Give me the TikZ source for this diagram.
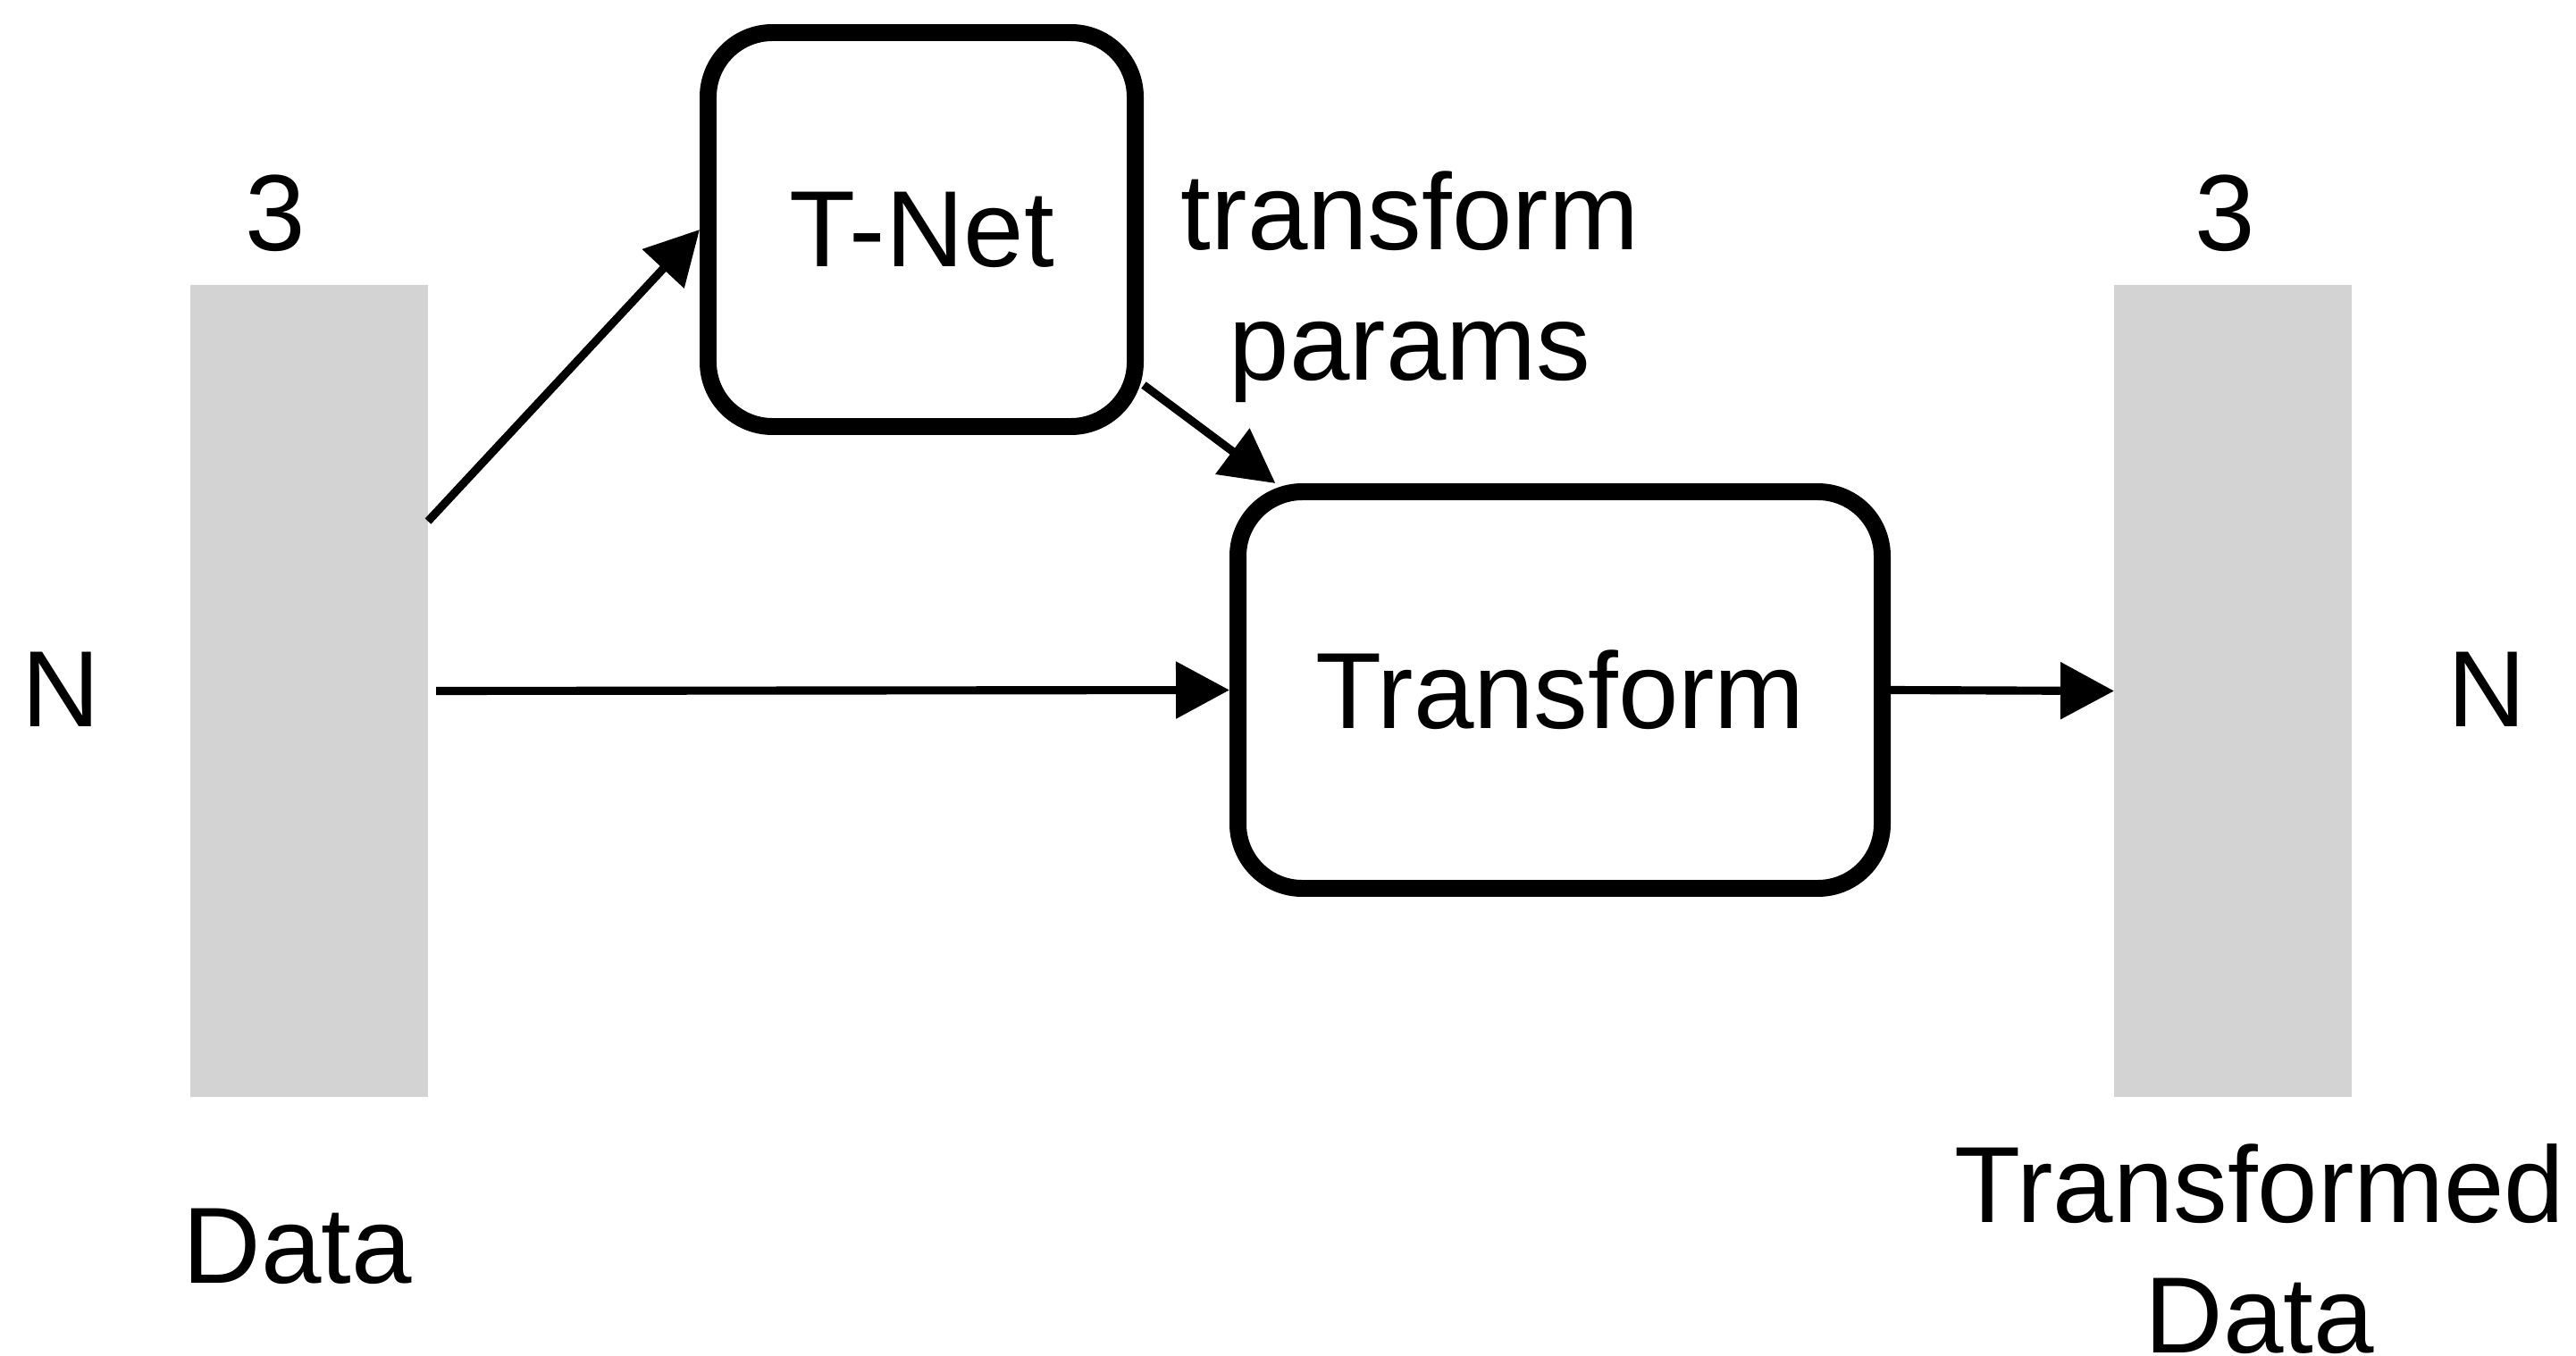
\documentclass[tikz,border=0pt]{standalone}
\usepackage{fontspec}
\setmainfont{Liberation Sans}
\usetikzlibrary{arrows.meta}
\definecolor{blockgray}{RGB}{211,211,211}
\tikzset{
  datablock/.style={fill=blockgray,minimum width=2.66cm,minimum height=9.08cm,inner sep=0pt,outer sep=0pt},
  procbox/.style={draw,line width=5.4pt,rounded corners=0.72cm,inner sep=0pt},
  conn/.style={line width=2.6pt,-{Triangle[length=0.6cm,width=0.62cm]}}
}
\begin{document}
\begin{tikzpicture}[font=\fontsize{34.5pt}{41.5pt}\selectfont]
  \useasboundingbox (0,0) rectangle (28.83,15.17);
  \node (data) at (3.46,7.435) [datablock] {};
  \node (tdata) at (24.99,7.435) [datablock] {};
  \node (tnet) at (10.315,12.60) [procbox,minimum width=4.78cm,minimum height=4.41cm] {T-Net};
  \node (trans) at (17.46,7.445) [procbox,minimum width=7.21cm,minimum height=4.44cm] {Transform};
  \node (dimin) at (3.08,12.36) [anchor=base] {3};
  \node (nin) at (0.68,7.04) [anchor=base] {N};
  \node (datalbl) at (3.33,0.81) [anchor=base] {Data};
  \node (dimout) at (24.90,12.36) [anchor=base] {3};
  \node (nout) at (27.83,7.04) [anchor=base] {N};
  \node (tdatalbl) at (25.29,1.185) [align=center] {Transformed\\Data};
  \node (params) at (15.78,11.955) [align=center] {transform\\params};
  \draw [conn] (data.55) -- (tnet.west);
  \draw [conn,shorten <=0.09cm] (data.east) -- (trans.west);
  \draw [conn] (tnet.-35) -- (trans.144);
  \draw [conn] (trans.east) -- (tdata.west);
\end{tikzpicture}
\end{document}
